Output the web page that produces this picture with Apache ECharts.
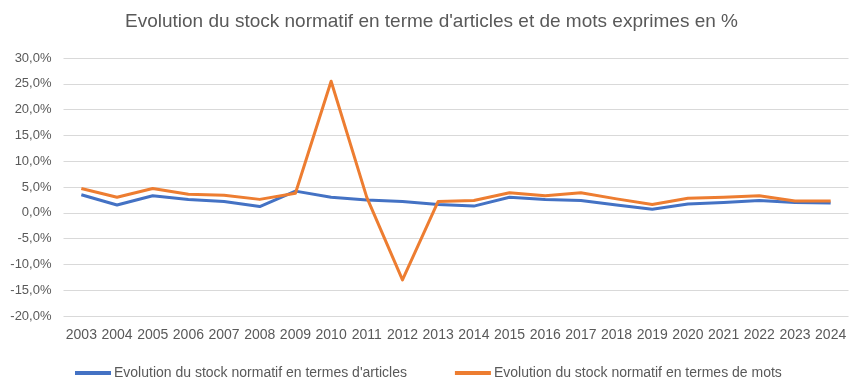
<!DOCTYPE html>
<html>
<head>
<meta charset="utf-8">
<script src="https://cdn.jsdelivr.net/npm/echarts@6/dist/echarts.min.js"></script>
<style>
html,body{margin:0;padding:0;background:#fff;}
#c{width:863px;height:388px;}
</style>
</head>
<body>
<div id="c"></div>
<script>
const titleText = "Evolution du stock normatif en terme d'articles et de mots exprimes en %";
const years = ["2003","2004","2005","2006","2007","2008","2009","2010","2011","2012","2013","2014","2015","2016","2017","2018","2019","2020","2021","2022","2023","2024"];
const seriesArticlesName = "Evolution du stock normatif en termes d'articles";
const seriesMotsName = "Evolution du stock normatif en termes de mots";
const articles = [3.5, 1.5, 3.3, 2.6, 2.2, 1.2, 4.2, 3.0, 2.5, 2.2, 1.6, 1.3, 3.0, 2.6, 2.4, 1.5, 0.7, 1.7, 2.0, 2.4, 2.0, 1.9];
const mots = [4.7, 3.0, 4.7, 3.6, 3.4, 2.6, 3.8, 25.5, 3.0, -13.0, 2.2, 2.4, 3.9, 3.3, 3.9, 2.7, 1.6, 2.8, 3.0, 3.3, 2.3, 2.3];
const yMin = -20, yMax = 30, yStep = 5;

const txt = '#595959';
const font = 'Liberation Sans';
const chart = echarts.init(document.getElementById('c'), null, {renderer:'canvas'});
chart.setOption({
  animation:false,
  backgroundColor:'#ffffff',
  title:{
    text:titleText, left:'center', top:12, padding:0,
    textStyle:{fontFamily:font, fontSize:19, fontWeight:'normal', color:txt}
  },
  grid:{left:63.5, right:14.5, top:58, bottom:72, containLabel:false},
  legend:{
    left:75, top:366, padding:0,
    itemWidth:36, itemHeight:4, itemGap:48,
    icon:'rect',
    textStyle:{fontFamily:font, fontSize:14, color:txt, padding:[0,0,0,-2]},
    data:[seriesArticlesName, seriesMotsName]
  },
  xAxis:{
    type:'category', data:years, boundaryGap:true,
    axisLine:{show:false}, axisTick:{show:false},
    axisLabel:{interval:0, margin:12, fontFamily:font, fontSize:14, color:txt}
  },
  yAxis:{
    type:'value', min:yMin, max:yMax, interval:yStep,
    axisLine:{show:false}, axisTick:{show:false},
    splitLine:{lineStyle:{color:'#d9d9d9', width:1}},
    axisLabel:{margin:12, fontFamily:font, fontSize:13, color:txt,
      formatter:function(v){return v.toFixed(1).replace('.',',')+'%';}}
  },
  series:[
    {name:seriesArticlesName, type:'line', data:articles, symbol:'none',
     lineStyle:{color:'#4472C4', width:3, join:'round'}, itemStyle:{color:'#4472C4'}},
    {name:seriesMotsName, type:'line', data:mots, symbol:'none',
     lineStyle:{color:'#ED7D31', width:3, join:'round'}, itemStyle:{color:'#ED7D31'}}
  ]
});
</script>
</body>
</html>
